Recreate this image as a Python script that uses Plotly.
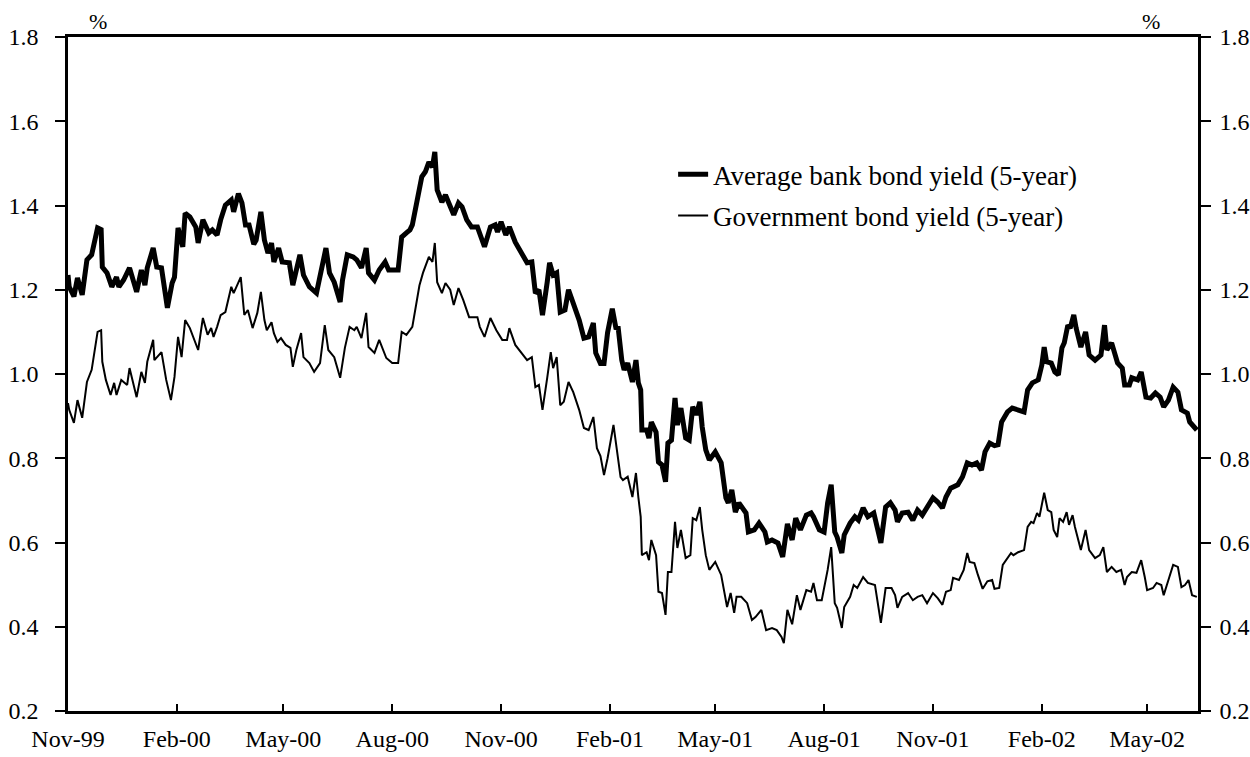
import plotly.graph_objects as go

# Average bank bond yield (5-year)
bank_dates = [
    "1999-11-01", "1999-11-02", "1999-11-06", "1999-11-09", "1999-11-13", "1999-11-17", "1999-11-21",
    "1999-11-23", "1999-11-26", "1999-11-29", "1999-11-30", "1999-12-04", "1999-12-08", "1999-12-12",
    "1999-12-14", "1999-12-18", "1999-12-23", "1999-12-29", "2000-01-02", "2000-01-05", "2000-01-07",
    "2000-01-12", "2000-01-15", "2000-01-19", "2000-01-22", "2000-01-24", "2000-01-28", "2000-01-30",
    "2000-02-02", "2000-02-06", "2000-02-08", "2000-02-12", "2000-02-17", "2000-02-19", "2000-02-23",
    "2000-02-28", "2000-03-02", "2000-03-06", "2000-03-09", "2000-03-13", "2000-03-18", "2000-03-20",
    "2000-03-24", "2000-03-27", "2000-03-30", "2000-04-02", "2000-04-06", "2000-04-08", "2000-04-12",
    "2000-04-15", "2000-04-18", "2000-04-21", "2000-04-23", "2000-04-27", "2000-04-30", "2000-05-06",
    "2000-05-09", "2000-05-12", "2000-05-15", "2000-05-18", "2000-05-23", "2000-05-29", "2000-06-02",
    "2000-06-06", "2000-06-09", "2000-06-13", "2000-06-18", "2000-06-20", "2000-06-24", "2000-06-29",
    "2000-07-02", "2000-07-06", "2000-07-10", "2000-07-12", "2000-07-17", "2000-07-21", "2000-07-26",
    "2000-07-29", "2000-08-06", "2000-08-09", "2000-08-13", "2000-08-16", "2000-08-18", "2000-08-22",
    "2000-08-26", "2000-08-29", "2000-09-01", "2000-09-04", "2000-09-06", "2000-09-08", "2000-09-12",
    "2000-09-15", "2000-09-19", "2000-09-22", "2000-09-26", "2000-09-29", "2000-10-03", "2000-10-07",
    "2000-10-12", "2000-10-14", "2000-10-18", "2000-10-23", "2000-10-27", "2000-10-29", "2000-11-01",
    "2000-11-05", "2000-11-08", "2000-11-13", "2000-11-18", "2000-11-23", "2000-11-27", "2000-11-30",
    "2000-12-03", "2000-12-06", "2000-12-10", "2000-12-12", "2000-12-15", "2000-12-18", "2000-12-21",
    "2000-12-25", "2000-12-28", "2001-01-01", "2001-01-06", "2001-01-10", "2001-01-14", "2001-01-18",
    "2001-01-20", "2001-01-24", "2001-01-27", "2001-01-30", "2001-02-03", "2001-02-06", "2001-02-08",
    "2001-02-11", "2001-02-13", "2001-02-16", "2001-02-20", "2001-02-23", "2001-02-25", "2001-02-27",
    "2001-02-28", "2001-03-04", "2001-03-06", "2001-03-08", "2001-03-12", "2001-03-14", "2001-03-17",
    "2001-03-20", "2001-03-22", "2001-03-25", "2001-03-28", "2001-03-30", "2001-04-02", "2001-04-06",
    "2001-04-09", "2001-04-12", "2001-04-15", "2001-04-18", "2001-04-20", "2001-04-23", "2001-04-26",
    "2001-05-01", "2001-05-06", "2001-05-10", "2001-05-12", "2001-05-15", "2001-05-18", "2001-05-21",
    "2001-05-27", "2001-05-29", "2001-06-03", "2001-06-07", "2001-06-12", "2001-06-14", "2001-06-18",
    "2001-06-23", "2001-06-27", "2001-07-01", "2001-07-05", "2001-07-08", "2001-07-12", "2001-07-17",
    "2001-07-21", "2001-07-23", "2001-07-28", "2001-08-01", "2001-08-04", "2001-08-07", "2001-08-10",
    "2001-08-12", "2001-08-16", "2001-08-18", "2001-08-23", "2001-08-27", "2001-08-30", "2001-09-03",
    "2001-09-07", "2001-09-12", "2001-09-18", "2001-09-22", "2001-09-26", "2001-09-30", "2001-10-02",
    "2001-10-06", "2001-10-11", "2001-10-15", "2001-10-19", "2001-10-23", "2001-10-27", "2001-11-01",
    "2001-11-05", "2001-11-09", "2001-11-12", "2001-11-16", "2001-11-22", "2001-11-26", "2001-11-30",
    "2001-12-04", "2001-12-08", "2001-12-12", "2001-12-15", "2001-12-19", "2001-12-23", "2001-12-26",
    "2001-12-29", "2002-01-03", "2002-01-07", "2002-01-12", "2002-01-17", "2002-01-20", "2002-01-24",
    "2002-01-29", "2002-02-01", "2002-02-03", "2002-02-05", "2002-02-09", "2002-02-12", "2002-02-15",
    "2002-02-18", "2002-02-20", "2002-02-23", "2002-02-25", "2002-02-28", "2002-03-02", "2002-03-06",
    "2002-03-10", "2002-03-13", "2002-03-18", "2002-03-23", "2002-03-26", "2002-03-28", "2002-04-01",
    "2002-04-06", "2002-04-10", "2002-04-12", "2002-04-16", "2002-04-18", "2002-04-23", "2002-04-26",
    "2002-04-30", "2002-05-04", "2002-05-08", "2002-05-12", "2002-05-15", "2002-05-19", "2002-05-23",
    "2002-05-27", "2002-05-30", "2002-06-04", "2002-06-06", "2002-06-10", "2002-06-12",
]
bank_yield = [
    1.235, 1.207, 1.184, 1.228, 1.188, 1.271, 1.283, 1.311, 1.347, 1.343, 1.254, 1.240, 1.207, 1.230,
    1.207, 1.223, 1.252, 1.195, 1.247, 1.211, 1.252, 1.299, 1.254, 1.252, 1.200, 1.157, 1.216, 1.230,
    1.347, 1.302, 1.382, 1.373, 1.349, 1.311, 1.366, 1.335, 1.342, 1.330, 1.366, 1.401, 1.413, 1.385,
    1.428, 1.406, 1.354, 1.354, 1.308, 1.318, 1.385, 1.318, 1.287, 1.311, 1.266, 1.299, 1.266, 1.264,
    1.211, 1.254, 1.283, 1.235, 1.207, 1.192, 1.247, 1.299, 1.240, 1.218, 1.171, 1.223, 1.283, 1.278,
    1.271, 1.252, 1.299, 1.240, 1.223, 1.247, 1.266, 1.247, 1.247, 1.325, 1.335, 1.342, 1.354, 1.413,
    1.468, 1.480, 1.503, 1.491, 1.527, 1.437, 1.408, 1.425, 1.397, 1.378, 1.406, 1.397, 1.366, 1.349,
    1.349, 1.330, 1.302, 1.349, 1.354, 1.337, 1.361, 1.330, 1.349, 1.313, 1.290, 1.264, 1.266, 1.192,
    1.200, 1.140, 1.218, 1.264, 1.235, 1.240, 1.147, 1.152, 1.200, 1.169, 1.128, 1.085, 1.088, 1.121,
    1.050, 1.025, 1.025, 1.098, 1.155, 1.110, 1.109, 1.033, 1.010, 1.026, 0.981, 1.033, 0.979, 0.962,
    0.867, 0.867, 0.848, 0.886, 0.862, 0.791, 0.784, 0.744, 0.836, 0.843, 0.943, 0.879, 0.919, 0.848,
    0.843, 0.922, 0.903, 0.934, 0.874, 0.820, 0.796, 0.815, 0.789, 0.706, 0.694, 0.725, 0.672, 0.694,
    0.670, 0.625, 0.630, 0.646, 0.625, 0.601, 0.606, 0.599, 0.566, 0.644, 0.606, 0.658, 0.630, 0.665,
    0.670, 0.661, 0.630, 0.625, 0.694, 0.737, 0.625, 0.613, 0.575, 0.618, 0.646, 0.661, 0.653, 0.682,
    0.661, 0.670, 0.599, 0.684, 0.694, 0.677, 0.649, 0.670, 0.672, 0.653, 0.677, 0.665, 0.682, 0.706,
    0.696, 0.682, 0.708, 0.729, 0.737, 0.756, 0.789, 0.784, 0.789, 0.772, 0.815, 0.836, 0.830, 0.832,
    0.886, 0.910, 0.919, 0.915, 0.910, 0.962, 0.979, 0.986, 1.021, 1.064, 1.029, 1.026, 1.005, 0.998,
    1.062, 1.074, 1.116, 1.109, 1.140, 1.109, 1.064, 1.100, 1.045, 1.033, 1.045, 1.116, 1.057, 1.074,
    1.026, 1.014, 0.974, 0.974, 0.991, 0.986, 1.005, 0.945, 0.943, 0.955, 0.945, 0.922, 0.938, 0.969,
    0.957, 0.915, 0.907, 0.886, 0.872, 0.867,
]

# Government bond yield (5-year)
gov_dates = [
    "1999-11-01", "1999-11-02", "1999-11-06", "1999-11-09", "1999-11-13", "1999-11-17", "1999-11-21",
    "1999-11-23", "1999-11-26", "1999-11-29", "1999-11-30", "1999-12-03", "1999-12-07", "1999-12-10",
    "1999-12-12", "1999-12-16", "1999-12-21", "1999-12-23", "1999-12-29", "2000-01-02", "2000-01-05",
    "2000-01-07", "2000-01-12", "2000-01-13", "2000-01-19", "2000-01-23", "2000-01-27", "2000-01-30",
    "2000-02-02", "2000-02-05", "2000-02-08", "2000-02-12", "2000-02-17", "2000-02-19", "2000-02-23",
    "2000-02-27", "2000-03-01", "2000-03-03", "2000-03-06", "2000-03-09", "2000-03-13", "2000-03-18",
    "2000-03-20", "2000-03-26", "2000-03-29", "2000-04-01", "2000-04-05", "2000-04-09", "2000-04-12",
    "2000-04-15", "2000-04-17", "2000-04-21", "2000-04-23", "2000-04-26", "2000-04-29", "2000-05-03",
    "2000-05-07", "2000-05-09", "2000-05-12", "2000-05-16", "2000-05-18", "2000-05-23", "2000-05-27",
    "2000-06-01", "2000-06-05", "2000-06-08", "2000-06-13", "2000-06-18", "2000-06-22", "2000-06-26",
    "2000-06-30", "2000-07-02", "2000-07-06", "2000-07-10", "2000-07-12", "2000-07-17", "2000-07-21",
    "2000-07-27", "2000-08-01", "2000-08-06", "2000-08-09", "2000-08-13", "2000-08-18", "2000-08-22",
    "2000-08-24", "2000-08-27", "2000-09-01", "2000-09-04", "2000-09-06", "2000-09-08", "2000-09-12",
    "2000-09-15", "2000-09-19", "2000-09-22", "2000-09-26", "2000-09-30", "2000-10-05", "2000-10-12",
    "2000-10-14", "2000-10-18", "2000-10-23", "2000-10-28", "2000-11-02", "2000-11-06", "2000-11-08",
    "2000-11-13", "2000-11-18", "2000-11-23", "2000-11-27", "2000-11-30", "2000-12-03", "2000-12-06",
    "2000-12-10", "2000-12-13", "2000-12-15", "2000-12-18", "2000-12-21", "2000-12-24", "2000-12-28",
    "2001-01-01", "2001-01-06", "2001-01-10", "2001-01-14", "2001-01-18", "2001-01-21", "2001-01-24",
    "2001-01-27", "2001-01-30", "2001-02-04", "2001-02-06", "2001-02-10", "2001-02-12", "2001-02-16",
    "2001-02-20", "2001-02-23", "2001-02-25", "2001-02-27", "2001-02-28", "2001-03-04", "2001-03-06",
    "2001-03-08", "2001-03-12", "2001-03-14", "2001-03-17", "2001-03-20", "2001-03-22", "2001-03-25",
    "2001-03-28", "2001-03-30", "2001-04-02", "2001-04-06", "2001-04-10", "2001-04-12", "2001-04-15",
    "2001-04-18", "2001-04-20", "2001-04-23", "2001-04-26", "2001-05-01", "2001-05-06", "2001-05-11",
    "2001-05-14", "2001-05-17", "2001-05-19", "2001-05-23", "2001-05-28", "2001-06-01", "2001-06-04",
    "2001-06-09", "2001-06-13", "2001-06-18", "2001-06-22", "2001-06-26", "2001-06-28", "2001-07-01",
    "2001-07-05", "2001-07-09", "2001-07-12", "2001-07-17", "2001-07-21", "2001-07-23", "2001-07-26",
    "2001-07-30", "2001-08-04", "2001-08-07", "2001-08-10", "2001-08-12", "2001-08-16", "2001-08-18",
    "2001-08-23", "2001-08-26", "2001-08-29", "2001-09-03", "2001-09-07", "2001-09-13", "2001-09-18",
    "2001-09-22", "2001-09-27", "2001-09-30", "2001-10-02", "2001-10-06", "2001-10-11", "2001-10-15",
    "2001-10-19", "2001-10-23", "2001-10-27", "2001-11-01", "2001-11-05", "2001-11-09", "2001-11-12",
    "2001-11-16", "2001-11-18", "2001-11-23", "2001-11-27", "2001-11-30", "2001-12-02", "2001-12-06",
    "2001-12-09", "2001-12-13", "2001-12-17", "2001-12-21", "2001-12-23", "2001-12-27", "2001-12-30",
    "2002-01-06", "2002-01-08", "2002-01-12", "2002-01-17", "2002-01-20", "2002-01-23", "2002-01-25",
    "2002-01-28", "2002-01-30", "2002-02-03", "2002-02-06", "2002-02-09", "2002-02-11", "2002-02-14",
    "2002-02-16", "2002-02-19", "2002-02-22", "2002-02-24", "2002-02-27", "2002-03-01", "2002-03-06",
    "2002-03-10", "2002-03-13", "2002-03-18", "2002-03-22", "2002-03-25", "2002-03-28", "2002-04-01",
    "2002-04-05", "2002-04-09", "2002-04-12", "2002-04-14", "2002-04-18", "2002-04-22", "2002-04-26",
    "2002-04-29", "2002-05-01", "2002-05-06", "2002-05-09", "2002-05-13", "2002-05-15", "2002-05-19",
    "2002-05-23", "2002-05-27", "2002-05-30", "2002-06-02", "2002-06-05", "2002-06-08", "2002-06-12",
]
gov_yield = [
    0.931, 0.915, 0.884, 0.938, 0.896, 0.981, 1.010, 1.050, 1.100, 1.104, 1.029, 0.986, 0.950, 0.979,
    0.950, 0.986, 0.974, 1.014, 0.945, 1.005, 0.979, 1.029, 1.081, 1.033, 1.052, 0.986, 0.938, 0.993,
    1.088, 1.040, 1.128, 1.109, 1.074, 1.057, 1.133, 1.093, 1.109, 1.088, 1.112, 1.140, 1.147, 1.207,
    1.192, 1.230, 1.140, 1.152, 1.109, 1.145, 1.195, 1.128, 1.104, 1.123, 1.097, 1.076, 1.085, 1.069,
    1.062, 1.017, 1.057, 1.097, 1.040, 1.026, 1.005, 1.026, 1.116, 1.057, 1.040, 0.991, 1.062, 1.112,
    1.104, 1.112, 1.085, 1.145, 1.064, 1.050, 1.081, 1.038, 1.026, 1.026, 1.100, 1.093, 1.112, 1.176,
    1.210, 1.240, 1.278, 1.266, 1.311, 1.218, 1.192, 1.216, 1.200, 1.164, 1.204, 1.176, 1.135, 1.135,
    1.112, 1.088, 1.133, 1.104, 1.081, 1.081, 1.109, 1.069, 1.052, 1.033, 1.040, 0.969, 0.974, 0.915,
    0.991, 1.052, 1.014, 1.040, 0.926, 0.934, 0.981, 0.957, 0.915, 0.872, 0.867, 0.898, 0.824, 0.805,
    0.760, 0.800, 0.879, 0.840, 0.755, 0.748, 0.756, 0.708, 0.765, 0.708, 0.661, 0.570, 0.577, 0.558,
    0.606, 0.570, 0.483, 0.480, 0.428, 0.530, 0.530, 0.649, 0.587, 0.630, 0.563, 0.570, 0.658, 0.653,
    0.684, 0.630, 0.570, 0.535, 0.554, 0.523, 0.447, 0.480, 0.433, 0.471, 0.471, 0.456, 0.416, 0.423,
    0.440, 0.392, 0.397, 0.392, 0.376, 0.361, 0.440, 0.406, 0.475, 0.440, 0.487, 0.483, 0.504, 0.463,
    0.463, 0.535, 0.589, 0.456, 0.445, 0.397, 0.447, 0.471, 0.499, 0.492, 0.518, 0.504, 0.499, 0.409,
    0.492, 0.492, 0.475, 0.445, 0.471, 0.480, 0.463, 0.471, 0.475, 0.456, 0.480, 0.468, 0.452, 0.483,
    0.487, 0.516, 0.511, 0.535, 0.575, 0.554, 0.551, 0.523, 0.490, 0.508, 0.511, 0.490, 0.492, 0.547,
    0.575, 0.570, 0.577, 0.582, 0.637, 0.649, 0.646, 0.670, 0.661, 0.718, 0.677, 0.672, 0.630, 0.613,
    0.658, 0.649, 0.672, 0.642, 0.665, 0.637, 0.582, 0.630, 0.582, 0.563, 0.570, 0.589, 0.530, 0.542,
    0.530, 0.535, 0.499, 0.518, 0.530, 0.528, 0.558, 0.518, 0.487, 0.492, 0.504, 0.499, 0.475, 0.511,
    0.547, 0.542, 0.494, 0.499, 0.511, 0.475, 0.471,
]

y_ticks = [0.2, 0.4, 0.6, 0.8, 1.0, 1.2, 1.4, 1.6, 1.8]

FONT = "Liberation Serif, Times New Roman, serif"

fig = go.Figure()

fig.add_trace(go.Scatter(
    x=bank_dates, y=bank_yield,
    mode="lines",
    name="Average bank bond yield (5-year)",
    legendgroup="bank",
    line=dict(color="black", width=5),
))
fig.add_trace(go.Scatter(
    x=gov_dates, y=gov_yield,
    mode="lines",
    name="Government bond yield (5-year)",
    legendgroup="gov",
    line=dict(color="black", width=2),
))

axis_font = dict(family=FONT, size=24, color="black")
pct_font = dict(family=FONT, size=22, color="black")


def y_axis(side, standoff):
    return dict(
        range=[0.2, 1.8],
        tickvals=y_ticks,
        tickformat=".1f",
        side=side,
        ticks="outside",
        ticklen=10,
        tickcolor="black",
        tickwidth=1.5,
        showline=True,
        linecolor="black",
        linewidth=2.5,
        showgrid=False,
        zeroline=False,
        automargin=False,
        tickfont=axis_font,
        ticklabelstandoff=standoff,
    )


fig.update_layout(
    width=1250,
    height=757,
    margin=dict(l=68, r=52, t=37, b=46, autoexpand=False),
    paper_bgcolor="white",
    plot_bgcolor="white",
    font=dict(family=FONT, color="black"),
    showlegend=True,
    legend=dict(
        x=0.5355, y=0.832, xanchor="left", yanchor="top",
        font=dict(family=FONT, size=27, color="black"),
        bgcolor="rgba(0,0,0,0)",
        tracegroupgap=3,
    ),
    xaxis=dict(
        type="date",
        range=["1999-11-01", "2002-06-13"],
        tick0="1999-11-01",
        dtick="M3",
        tickformat="%b-%y",
        ticks="inside",
        ticklen=7,
        tickcolor="black",
        tickwidth=1.5,
        showline=True,
        linecolor="black",
        linewidth=2.5,
        mirror=True,
        showgrid=False,
        zeroline=False,
        automargin=False,
        tickfont=axis_font,
        ticklabelstandoff=4,
    ),
    yaxis=y_axis("left", 12),
    yaxis2=dict(y_axis("right", 4), overlaying="y", anchor="x"),
    annotations=[
        dict(text="%", xref="paper", yref="paper", x=0.0168, y=1.0223, yanchor="middle",
             showarrow=False, font=pct_font),
        dict(text="%", xref="paper", yref="paper", x=0.968, y=1.0223, yanchor="middle",
             showarrow=False, font=pct_font),
    ],
)

# invisible trace so the right-hand axis is drawn
fig.add_trace(go.Scatter(x=[bank_dates[0]], y=[bank_yield[0]], yaxis="y2", mode="lines",
                         showlegend=False, hoverinfo="skip", line=dict(width=0)))

# the page body has a default 8px margin; drop it so the figure sits at the window corner
fig.write_html("out.html", config={"displayModeBar": False},
               post_script="document.body.style.margin = '0';")
